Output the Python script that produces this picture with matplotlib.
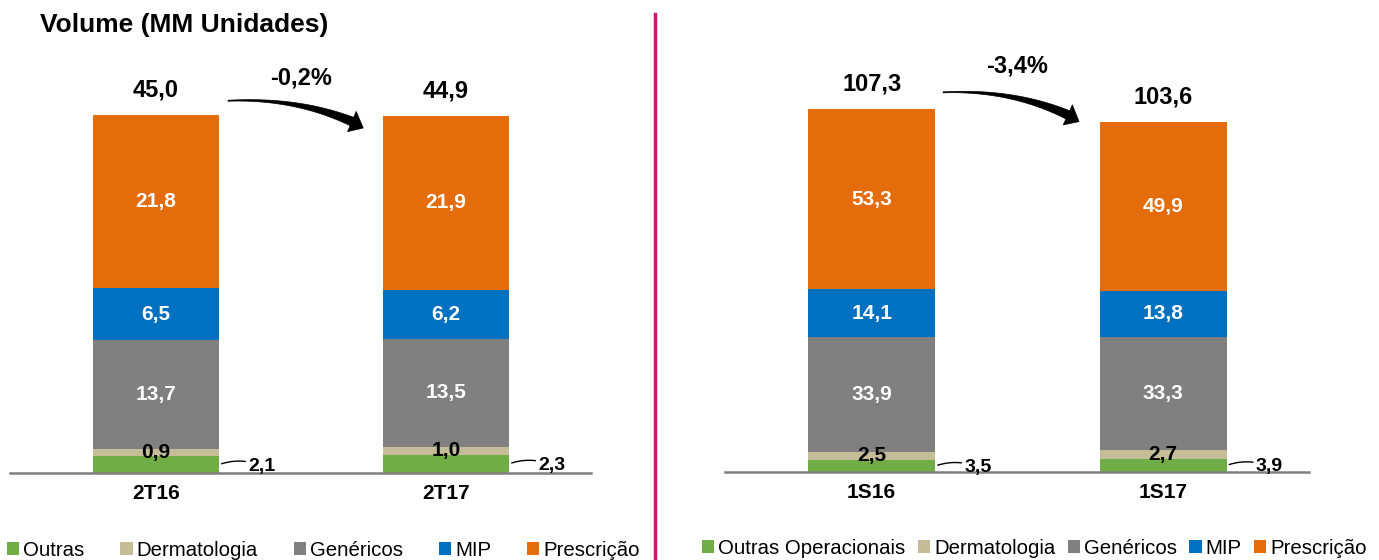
import matplotlib
matplotlib.use("Agg")
import matplotlib.pyplot as plt
from matplotlib.patches import Patch, Polygon
from matplotlib.lines import Line2D
import numpy as np

plt.rcParams['font.family'] = ['Liberation Sans', 'DejaVu Sans']

# data
series = ["Outras", "Dermatologia", "Genéricos", "MIP", "Prescrição"]
colors = ["#70AD47", "#C4BD97", "#808080", "#0070C0", "#E46C0A"]

tri_labels = ["2T16", "2T17"]
tri_outras = [2.1, 2.3]
tri_derm = [0.9, 1.0]
tri_gen = [13.7, 13.5]
tri_mip = [6.5, 6.2]
tri_presc = [21.8, 21.9]
tri_total = [45.0, 44.9]
tri_change = "-0,2%"

sem_labels = ["1S16", "1S17"]
sem_outras = [3.5, 3.9]
sem_derm = [2.5, 2.7]
sem_gen = [33.9, 33.3]
sem_mip = [14.1, 13.8]
sem_presc = [53.3, 49.9]
sem_total = [107.3, 103.6]
sem_change = "-3,4%"

W = 0.435


def fmt(v):
    return f"{v:.1f}".replace(".", ",")


def curved_arrow(fig, p0, p2, lift=3, w0=1.0, w1=9.0, hw=11.0, hl=13.0):
    # tapered curved arrow built in pixel space, thin at the start, thick at the head
    p0 = np.array(p0, float)
    p2 = np.array(p2, float)
    p1 = np.array([p0[0] + 0.55 * (p2[0] - p0[0]), p0[1] + lift])
    t = np.linspace(0, 1, 60)[:, None]
    pts = (1 - t) ** 2 * p0 + 2 * (1 - t) * t * p1 + t ** 2 * p2
    der = 2 * (1 - t) * (p1 - p0) + 2 * t * (p2 - p1)
    der /= np.linalg.norm(der, axis=1, keepdims=True)
    nrm = np.column_stack([-der[:, 1], der[:, 0]])
    wid = (w0 + (w1 - w0) * t[:, 0] ** 1.4)[:, None] / 2
    left = pts + nrm * wid
    right = pts - nrm * wid
    d, n = der[-1], nrm[-1]
    head = [p2 + n * hw, p2 + d * hl - n * 1.5, p2 - n * hw]
    poly = np.vstack([left, head[:1], head[1:2], head[2:], right[::-1]])
    poly = fig.transFigure.inverted().transform(poly)
    fig.add_artist(Polygon(poly, closed=True, transform=fig.transFigure,
                           facecolor="black", edgecolor="black", lw=0.5))


def draw_panel(fig, ax, labels, stacks, totals, change, ymax, arr, pct_y):
    x = np.arange(len(labels))
    bottom = np.zeros(len(labels))
    for i, vals in enumerate(stacks):
        ax.bar(x, vals, W, bottom=bottom, color=colors[i], edgecolor="none")
        for j, v in enumerate(vals):
            if i >= 2:
                ax.text(x[j], bottom[j] + v / 2, fmt(v), ha="center", va="center",
                        color="white", fontsize=15, fontweight="bold")
            elif i == 1:
                ax.text(x[j], bottom[j] + v / 2, fmt(v), ha="center", va="center",
                        color="black", fontsize=15, fontweight="bold")
            else:
                # outside label with leader line
                ax.annotate(fmt(v), xy=(x[j] + W / 2, v / 2), xytext=(21, -1),
                            textcoords="offset points", ha="left", va="center",
                            fontsize=14, fontweight="bold",
                            arrowprops=dict(arrowstyle="-", color="black", lw=1.0,
                                            shrinkA=0, shrinkB=2,
                                            connectionstyle="arc3,rad=0.2"))
        bottom += np.array(vals)
    for j, t in enumerate(totals):
        ax.annotate(fmt(t), xy=(x[j], t), xytext=(0, 18), textcoords="offset points",
                    ha="center", va="center", fontsize=17, fontweight="bold")
    ax.set_xlim(-0.503, 1.5)
    ax.set_ylim(0, ymax)
    ax.text(np.mean(x), pct_y, change, ha="center", va="center",
            fontsize=17, fontweight="bold")
    # change arrow from bar corners
    c0 = ax.transData.transform((x[0] + W / 2, totals[0]))
    c1 = ax.transData.transform((x[1] - W / 2, totals[1]))
    curved_arrow(fig, c0 + np.array(arr[:2]), c1 + np.array(arr[2:]))
    ax.set_xticks(x)
    ax.set_xticklabels(labels, fontsize=15, fontweight="bold")
    ax.tick_params(axis="x", length=0, pad=8)
    ax.set_yticks([])
    for s in ["top", "right", "left"]:
        ax.spines[s].set_visible(False)
    ax.spines["bottom"].set_color("#808080")
    ax.spines["bottom"].set_linewidth(1.8)


fig = plt.figure(figsize=(13.79, 5.6), dpi=100)

ax1 = fig.add_axes([10 / 1379, 87 / 560, 581 / 1379, 414 / 560])
draw_panel(fig, ax1, tri_labels,
           [tri_outras, tri_derm, tri_gen, tri_mip, tri_presc],
           tri_total, tri_change, 52.0, (9, 14, -31, -6), 49.6)

ax2 = fig.add_axes([725 / 1379, 88 / 560, 584 / 1379, 413 / 560])
draw_panel(fig, ax2, sem_labels,
           [sem_outras, sem_derm, sem_gen, sem_mip, sem_presc],
           sem_total, sem_change, 122.2, (8, 17, -32, 7), 120.0)

fig.text(40 / 1379, 1 - 25 / 560, "Volume (MM Unidades)", ha="left", va="center",
         fontsize=19, fontweight="bold")

# separator
fig.add_artist(Line2D([655 / 1379, 655 / 1379], [0, 1 - 14 / 560],
                      transform=fig.transFigure, color="#D6136F", lw=2.5))

handles = [Patch(facecolor=c, edgecolor="none") for c in colors]
fig.legend(handles, series, loc="center left", bbox_to_anchor=(7 / 1379, 10 / 560),
           ncol=5, frameon=False, fontsize=14.7, handlelength=0.6, handleheight=0.6,
           handletextpad=0.2, columnspacing=1.75, borderaxespad=0, borderpad=0)
labels2 = ["Outras Operacionais"] + series[1:]
fig.legend(handles, labels2, loc="center left", bbox_to_anchor=(702 / 1379, 12 / 560),
           ncol=5, frameon=False, fontsize=14.7, handlelength=0.6, handleheight=0.6,
           handletextpad=0.2, columnspacing=0.6, borderaxespad=0, borderpad=0)

fig.savefig("out.png", dpi=100)
